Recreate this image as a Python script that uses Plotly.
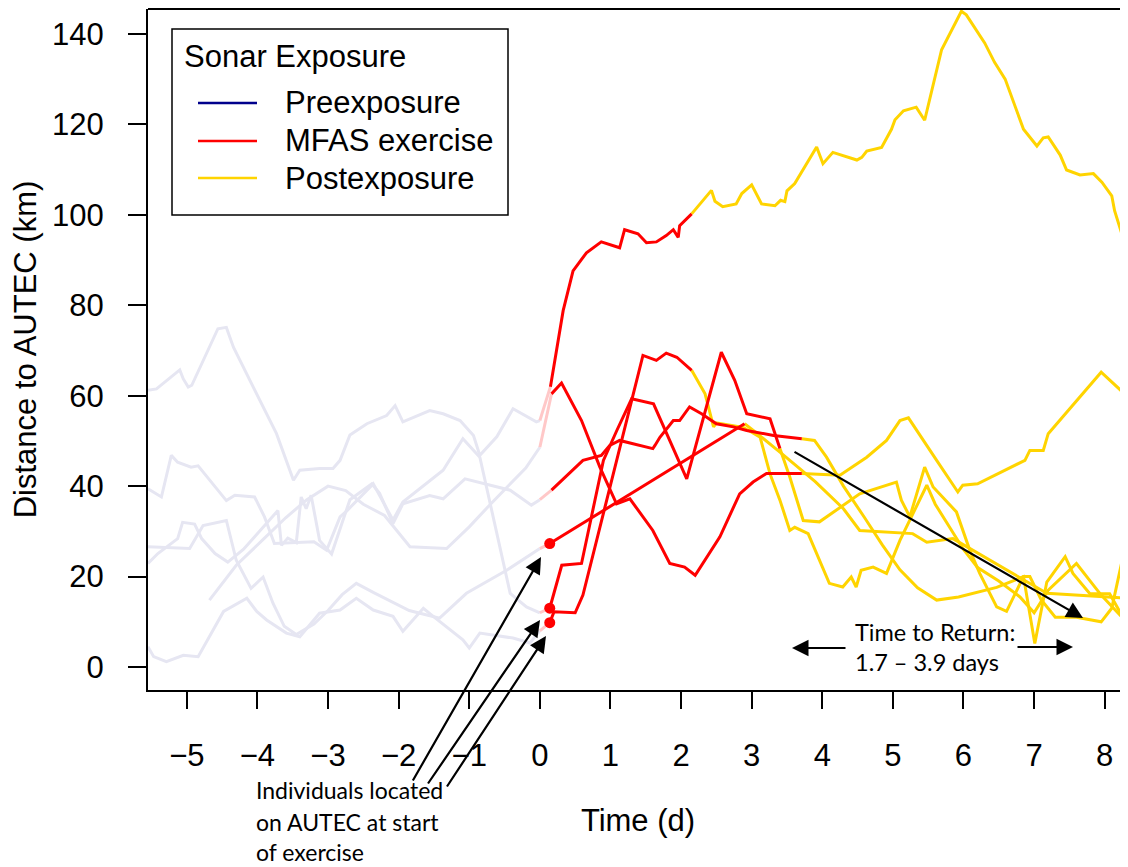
import plotly.graph_objects as go

# ---------------- data: pre-exposure (faded) tracks ----------------
pre_a_t = [-5.55, -5.43, -5.10, -5.05, -4.98, -4.93, -4.56, -4.44, -4.34, -4.01, -3.73, -3.49, -3.40, -3.12,
           -2.93, -2.83, -2.69, -2.45, -2.17, -2.05, -1.94, -1.56, -1.37, -1.13, -0.94, -0.85, -0.61, -0.38,
           -0.05, 0.0]
pre_a_v = [61.2, 61.5, 65.7, 63.7, 61.9, 62.3, 74.8, 75.1, 70.7, 60.4, 51.6, 41.3, 43.5, 43.9,
           43.9, 45.7, 51.3, 53.8, 55.6, 57.8, 54.2, 56.7, 56.0, 54.5, 51.2, 46.8, 50.9, 57.1,
           54.2, 54.5]

pre_b_t = [-4.68, -4.30, -3.90, -3.60, -3.30, -3.00, -2.75, -2.50, -2.20, -1.84, -1.32, -1.00, -0.70,
           -0.45, -0.20, 0.0]
pre_b_v = [14.8, 22.5, 28.5, 33.0, 37.0, 40.0, 39.0, 36.0, 33.5, 26.6, 26.2, 31.0, 36.0, 40.0, 44.0, 48.6]

pre_c_t = [-5.55, -5.41, -5.13, -5.06, -4.89, -4.79, -4.60, -4.42, -4.20, -3.95, -3.71, -3.66, -3.57, -3.45,
           -3.38, -3.31, -3.24, -3.12, -2.95, -2.69, -2.38, -2.27, -2.08, -1.94, -1.56, -1.37, -1.06, -0.42,
           -0.12, 0.0]
pre_c_v = [22.9, 25.1, 28.4, 32.0, 31.6, 28.4, 25.1, 23.2, 26.0, 30.5, 34.6, 26.9, 28.5, 27.5,
           37.6, 35.0, 38.0, 28.0, 25.0, 37.0, 40.5, 38.4, 31.7, 36.1, 37.9, 37.2, 41.6, 39.1,
           35.8, 37.0]

pre_d_t = [-5.55, -5.25, -4.96, -4.77, -4.44, -4.30, -4.09, -3.92, -3.78, -3.62, -3.45, -3.20, -3.00,
           -2.80, -2.60, -2.36, -2.10, -1.85, -1.60, -1.42, -1.04, -0.47, 0.0]
pre_d_v = [26.6, 26.4, 26.2, 31.3, 32.4, 23.6, 17.4, 19.9, 14.1, 9.0, 7.2, 9.5, 12.5,
           16.0, 18.5, 16.5, 14.5, 12.5, 11.5, 10.8, 16.3, 21.4, 26.2]

pre_e_t = [-5.55, -5.36, -5.22, -5.13, -4.94, -4.84, -4.44, -4.32, -4.04, -3.90, -3.76, -3.55, -3.20,
           -3.02, -2.83, -2.73, -2.36, -2.08, -1.94, -1.37, -1.09, -0.85, -0.42, -0.19, 0.0]
pre_e_v = [39.4, 37.6, 46.8, 45.3, 44.2, 44.5, 36.8, 38.0, 37.6, 33.2, 27.3, 27.5, 27.7,
           25.8, 33.2, 34.6, 40.5, 32.5, 36.5, 43.5, 50.5, 46.4, 16.3, 13.3, 12.0]

pre_f_t = [-5.55, -5.47, -5.29, -5.05, -4.84, -4.48, -4.15, -4.01, -3.87, -3.59, -3.40, -3.12, -2.83,
           -2.60, -2.36, -2.08, -1.94, -1.65, -1.51, -1.09, -1.00, -0.85, -0.38, -0.14, 0.0]
pre_f_v = [4.5, 2.3, 1.2, 2.6, 2.3, 12.3, 15.2, 12.3, 10.4, 7.5, 6.7, 11.9, 12.6,
           15.2, 12.6, 11.2, 7.9, 13.0, 11.2, 6.0, 4.2, 7.5, 6.4, 5.3, 8.0]

# ---------------- data: MFAS exercise (red) tracks ----------------
mfas_a_t = [0.15, 0.33, 0.47, 0.66, 0.87, 1.13, 1.20, 1.39, 1.51, 1.65, 1.79, 1.89, 1.96, 1.98, 2.15]
mfas_a_v = [62.0, 78.8, 87.6, 91.6, 94.0, 92.7, 96.7, 95.8, 93.8, 94.0, 95.4, 96.7, 95.0, 97.6, 100.2]

mfas_b_t = [0.165, 0.307, 0.59, 0.85, 1.086, 1.275, 1.60, 1.84, 2.05, 2.20, 2.55, 2.83, 3.02, 3.21, 3.71]
mfas_b_v = [60.4, 62.8, 54.5, 44.2, 36.1, 37.2, 30.2, 22.9, 22.1, 20.3, 28.8, 38.3, 40.9, 42.8, 42.8]

mfas_c_t = [0.165, 0.61, 0.87, 0.99, 1.13, 1.60, 1.63, 1.70, 1.89, 1.98, 2.12, 2.29, 2.50, 2.74, 2.93, 3.31, 3.71]
mfas_c_v = [39.1, 45.7, 46.8, 49.0, 50.1, 48.3, 49.0, 50.8, 54.5, 54.5, 57.5, 56.0, 53.8, 53.1, 52.3, 51.2, 50.5]

mfas_d_t = [0.14, 2.90]
mfas_d_v = [27.3, 53.8]

mfas_e_t = [0.14, 0.31, 0.59, 0.90, 1.09, 1.30, 1.61, 2.08, 2.57, 2.76, 2.93, 3.26, 3.40]
mfas_e_v = [13.0, 22.5, 22.9, 45.7, 52.3, 59.3, 58.2, 41.6, 69.6, 63.4, 56.0, 54.9, 48.3]

mfas_f_t = [0.14, 0.20, 0.50, 0.61, 1.46, 1.65, 1.79, 1.94, 2.15]
mfas_f_v = [9.8, 12.2, 12.0, 15.9, 68.9, 67.8, 69.4, 68.5, 65.6]

# ---------------- data: postexposure (yellow) tracks ----------------
post_a_t = [2.15, 2.43, 2.48, 2.59, 2.78, 2.86, 3.00, 3.14, 3.33, 3.41, 3.47, 3.50, 3.61, 3.92, 4.01, 4.15,
            4.49, 4.56, 4.63, 4.84, 4.98, 5.03, 5.15, 5.33, 5.45, 5.69, 5.97, 6.04, 6.30, 6.44, 6.59, 6.66,
            6.85, 7.04, 7.13, 7.20, 7.37, 7.46, 7.58, 7.65, 7.84, 7.96, 8.10, 8.14, 8.33, 8.50]
post_a_v = [100.2, 105.4, 103.0, 101.8, 102.4, 104.7, 106.6, 102.4, 102.0, 103.2, 102.9, 105.3, 106.9, 115.0,
            111.3, 113.8, 112.1, 112.7, 114.1, 114.9, 118.9, 121.0, 123.0, 123.8, 120.9, 136.5, 145.0, 144.2,
            138.0, 133.7, 130.0, 127.0, 118.9, 115.2, 117.0, 117.2, 113.2, 109.9, 109.3, 108.8, 109.1, 107.2,
            104.2, 100.9, 91.4, 84.0]

post_b_t = [3.71, 4.25, 4.63, 4.91, 5.10, 5.22, 5.62, 5.92, 5.99, 6.20, 6.87, 6.94, 7.13, 7.20, 7.95, 8.33, 8.50]
post_b_v = [42.8, 42.4, 46.4, 50.1, 54.5, 55.1, 45.7, 38.7, 40.2, 40.5, 45.7, 47.9, 47.9, 51.6, 65.2, 59.7, 56.0]

post_c_t = [3.71, 3.89, 4.06, 4.30, 4.60, 4.85, 5.10, 5.35, 5.62, 5.93, 6.47, 6.85, 7.01, 7.18, 7.44, 7.55,
            7.79, 8.07, 8.33, 8.50]
post_c_v = [50.5, 50.1, 46.4, 40.0, 33.0, 27.0, 21.5, 17.5, 14.8, 15.5, 17.6, 20.0, 5.2, 18.8, 24.4, 20.7,
            16.2, 16.2, 9.0, 6.0]

post_d_t = [2.90, 3.05, 3.40, 3.90, 4.30, 4.53, 5.28, 5.48, 5.85, 7.18, 8.33, 8.50]
post_d_v = [53.8, 52.0, 47.5, 41.0, 35.0, 30.2, 29.5, 27.6, 28.4, 16.3, 15.2, 14.8]

post_e_t = [3.40, 3.54, 3.73, 3.96, 4.53, 4.91, 5.05, 5.12, 5.24, 5.45, 5.57, 5.90, 6.09, 6.23, 6.47, 6.61,
            6.85, 6.94, 7.10, 7.30, 7.60, 7.95, 8.10, 8.33, 8.50]
post_e_v = [48.3, 42.0, 32.4, 32.1, 38.3, 40.2, 40.9, 36.9, 33.2, 44.2, 39.8, 34.3, 25.8, 20.7, 13.3, 12.3,
            20.0, 20.0, 14.9, 11.0, 11.0, 10.0, 13.0, 29.5, 40.0]

post_f_t = [2.15, 2.34, 2.46, 2.50, 2.88, 3.12, 3.26, 3.40, 3.54, 3.61, 3.80, 4.10, 4.29, 4.41, 4.48, 4.55,
            4.72, 4.91, 5.10, 5.24, 5.48, 5.60, 5.80, 6.00, 6.20, 6.50, 6.80, 7.00, 7.20, 7.60, 7.95, 8.33, 8.50]
post_f_v = [65.6, 60.4, 53.1, 54.0, 53.0, 50.8, 42.7, 36.9, 30.2, 30.9, 29.5, 18.5, 17.7, 19.9, 17.7, 21.4,
            22.1, 20.7, 28.0, 32.4, 40.2, 36.0, 31.0, 26.0, 22.0, 19.0, 15.5, 12.0, 17.0, 22.9, 15.9, 9.6, 6.0]

x_ticks = [-5, -4, -3, -2, -1, 0, 1, 2, 3, 4, 5, 6, 7, 8]
y_ticks = [0, 20, 40, 60, 80, 100, 120, 140]

legend_title = "Sonar Exposure"
legend_labels = ["Preexposure", "MFAS exercise", "Postexposure"]

# ---------------- styles ----------------
FADED = "rgb(230,230,242)"
PINK = "rgb(255,200,200)"
RED = "rgb(255,0,0)"
GOLD = "rgb(255,212,0)"
NAVY = "rgb(0,0,140)"
FONT = "Liberation Sans, Arial, sans-serif"
NOTE_FONT = "Lato, Carlito, sans-serif"
FS = 31

pre = [(pre_a_t, pre_a_v), (pre_b_t, pre_b_v), (pre_c_t, pre_c_v),
       (pre_d_t, pre_d_v), (pre_e_t, pre_e_v), (pre_f_t, pre_f_v)]
mfas = [(mfas_a_t, mfas_a_v), (mfas_b_t, mfas_b_v), (mfas_c_t, mfas_c_v),
        (mfas_d_t, mfas_d_v), (mfas_e_t, mfas_e_v), (mfas_f_t, mfas_f_v)]
post = [(post_a_t, post_a_v), (post_b_t, post_b_v), (post_c_t, post_c_v),
        (post_d_t, post_d_v), (post_e_t, post_e_v), (post_f_t, post_f_v)]

fig = go.Figure()

for t, v in pre:
    fig.add_trace(go.Scatter(x=t, y=v, mode="lines", line=dict(color=FADED, width=3),
                             showlegend=False, hoverinfo="skip"))
# faded links between pre-exposure end and exercise start
for (pt, pv), (mt, mv) in zip(pre, mfas):
    fig.add_trace(go.Scatter(x=[pt[-1], mt[0]], y=[pv[-1], mv[0]], mode="lines",
                             line=dict(color=PINK, width=3), showlegend=False, hoverinfo="skip"))
for t, v in post:
    fig.add_trace(go.Scatter(x=t, y=v, mode="lines", line=dict(color=GOLD, width=3),
                             showlegend=False, hoverinfo="skip"))
for t, v in mfas:
    fig.add_trace(go.Scatter(x=t, y=v, mode="lines", line=dict(color=RED, width=3),
                             showlegend=False, hoverinfo="skip"))

# start points of individuals on AUTEC
dot_src = [mfas[3], mfas[4], mfas[5]]
fig.add_trace(go.Scatter(x=[m[0][0] for m in dot_src], y=[m[1][0] for m in dot_src], mode="markers",
                         marker=dict(color=RED, size=11), showlegend=False, hoverinfo="skip"))

# the page places the figure 8px from the window's top-left corner
OFF = 8
W, H = 1128 - OFF, 867 - OFF
L, R, T, B = 148 - OFF, 0, 8 - OFF + 1, 867 - 690
pw, ph = W - L - R, H - T - B


def px(x):
    return (x - OFF - L) / pw


def py(y):
    return (H - B - (y - OFF)) / ph


shapes = []
# top frame line
shapes.append(dict(type="line", xref="paper", yref="paper", x0=0, x1=1, y0=1, y1=1,
                   line=dict(color="black", width=2)))
# legend box
shapes.append(dict(type="rect", xref="paper", yref="paper", x0=px(172), x1=px(508), y0=py(29), y1=py(215),
                   line=dict(color="black", width=1.5), fillcolor="white"))
legend_y = [103, 141, 178]
for yy, col in zip(legend_y, [NAVY, RED, GOLD]):
    shapes.append(dict(type="line", xref="paper", yref="paper", x0=px(198), x1=px(257), y0=py(yy), y1=py(yy),
                       line=dict(color=col, width=2.5)))

ann = []
ann.append(dict(xref="paper", yref="paper", x=px(182), y=py(57), text=legend_title, showarrow=False,
                xanchor="left", yanchor="middle", font=dict(family=FONT, size=FS, color="black")))
for yy, lab in zip(legend_y, legend_labels):
    ann.append(dict(xref="paper", yref="paper", x=px(283), y=py(yy), text=lab, showarrow=False,
                    xanchor="left", yanchor="middle", font=dict(family=FONT, size=FS, color="black")))

# arrows to the start dots (pixel tails)
for (hx, hy), (tx, ty) in zip([(541, 557), (540, 620), (546, 636)], [(412, 782), (427, 785), (446, 788)]):
    ann.append(dict(xref="paper", yref="paper", x=px(hx), y=py(hy), ax=tx - hx, ay=ty - hy, text="",
                    showarrow=True, arrowhead=2, arrowsize=1.5, arrowwidth=2.2, arrowcolor="black"))
for yy, txt in zip([790, 822, 852], ["Individuals located", "on AUTEC at start", "of exercise"]):
    ann.append(dict(xref="paper", yref="paper", x=px(254), y=py(yy), text=txt, showarrow=False,
                    xanchor="left", yanchor="middle", font=dict(family=NOTE_FONT, size=23, color="black")))
for yy, txt in zip([632, 662], ["Time to Return:", "1.7 \u2013 3.9 days"]):
    ann.append(dict(xref="paper", yref="paper", x=px(853), y=py(yy), text=txt, showarrow=False,
                    xanchor="left", yanchor="middle", font=dict(family=NOTE_FONT, size=23.5, color="black")))
# time-to-return arrows
for (hx, hy), (tx, ty) in zip([(792, 648), (1073, 647), (1083, 618)], [(847, 648), (1016, 647), (793, 451)]):
    ann.append(dict(xref="paper", yref="paper", x=px(hx), y=py(hy), ax=tx - hx, ay=ty - hy, text="",
                    showarrow=True, arrowhead=2, arrowsize=1.5, arrowwidth=2.2, arrowcolor="black"))

fig.update_layout(
    width=W, height=H, margin=dict(l=L, r=R, t=T, b=B, pad=0),
    plot_bgcolor="white", paper_bgcolor="white",
    shapes=shapes, annotations=ann, showlegend=False,
    font=dict(family=FONT, size=FS, color="black"),
)
fig.update_xaxes(range=[-5.55, 8.33], tickvals=x_ticks, ticks="outside", ticklen=17, tickwidth=2,
                 tickcolor="black", showline=True, linewidth=2, linecolor="black", showgrid=False,
                 zeroline=False, ticklabelstandoff=20,
                 title=dict(text="Time (d)", standoff=37, font=dict(size=FS)))
fig.update_yaxes(range=[-5.08, 145.5], tickvals=y_ticks, ticks="outside", ticklen=18, tickwidth=2,
                 tickcolor="black", showline=True, linewidth=2, linecolor="black", showgrid=False,
                 zeroline=False, ticklabelstandoff=18,
                 title=dict(text="Distance to AUTEC (km)", standoff=12, font=dict(size=FS)))

fig.write_html("out.html")
